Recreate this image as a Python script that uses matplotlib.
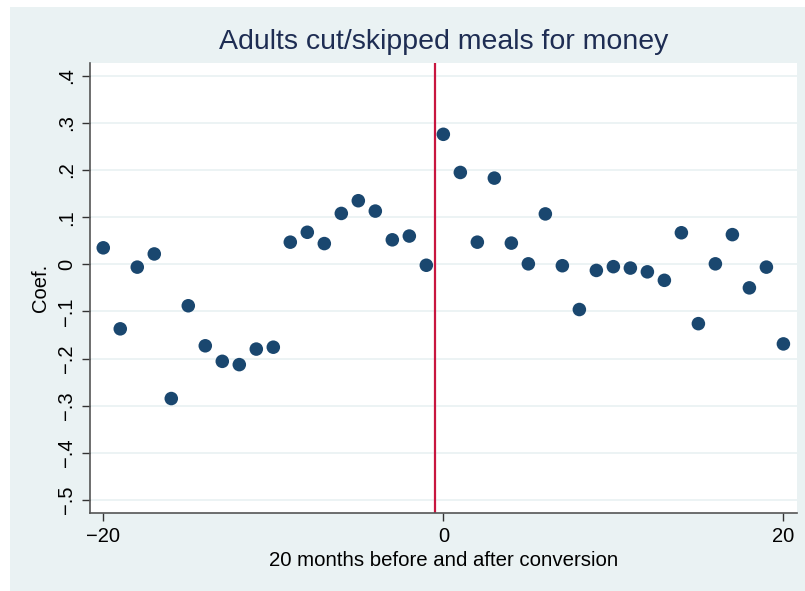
import matplotlib
matplotlib.use("Agg")
import matplotlib.pyplot as plt
from matplotlib.patches import Rectangle

# months relative to conversion and estimated coefficients
months = list(range(-20, 21))
coefs = [0.035, -0.137, -0.006, 0.022, -0.285, -0.088, -0.173, -0.206, -0.213, -0.180,
         -0.176, 0.047, 0.068, 0.044, 0.108, 0.135, 0.113, 0.052, 0.060, -0.002,
         0.276, 0.195, 0.047, 0.183, 0.045, 0.001, 0.107, -0.003, -0.096, -0.013,
         -0.005, -0.008, -0.016, -0.034, 0.067, -0.126, 0.001, 0.063, -0.050, -0.006,
         -0.169]
yticks = [-0.5, -0.4, -0.3, -0.2, -0.1, 0, 0.1, 0.2, 0.3, 0.4]
ytick_labels = ["\u2212.5", "\u2212.4", "\u2212.3", "\u2212.2", "\u2212.1", "0", ".1", ".2", ".3", ".4"]
xticks = [-20, 0, 20]
xtick_labels = ["\u221220", "0", "20"]
event_line = -0.5

plt.rcParams['font.family'] = ['Liberation Sans', 'DejaVu Sans']

W, H = 805, 591
fig = plt.figure(figsize=(W / 100, H / 100), dpi=100)
fig.patch.set_facecolor("white")

# Stata-style outer background
bg = "#eaf2f3"
fig.patches.append(Rectangle((10 / W, 0), 1 - 10 / W, 1 - 7 / H, transform=fig.transFigure,
                             facecolor=bg, edgecolor="none", zorder=-10))

left, right, top, bottom = 90, 797, 63, 513
ax = fig.add_axes([left / W, 1 - bottom / H, (right - left) / W, (bottom - top) / H])
ax.set_zorder(1)
ax.set_facecolor("white")

ax.scatter(months, coefs, s=95, color="#1a476f", edgecolors="none", zorder=3)
ax.axvline(event_line, color="#c8163f", lw=1.6, zorder=2)

ax.set_xlim(-20.78, 20.8)
ax.set_ylim(-0.528, 0.4274)

ax.set_yticks(yticks)
ax.set_yticklabels(ytick_labels, rotation=90, va="center", fontsize=14.5)
ax.set_xticks(xticks)
ax.set_xticklabels(xtick_labels, fontsize=14.5)
ax.tick_params(axis="both", length=6, width=1, color="#333333", pad=4)

ax.grid(axis="y", color="#eaf2f3", lw=1.3, zorder=0)
ax.set_axisbelow(True)

for s in ["top", "right"]:
    ax.spines[s].set_visible(False)
for s in ["left", "bottom"]:
    ax.spines[s].set_color("#555555")
    ax.spines[s].set_linewidth(1.2)

ax.set_xlabel("20 months before and after conversion", fontsize=14.7, labelpad=4)
ax.set_ylabel("Coef.", fontsize=14.5, labelpad=5)
ax.set_title("Adults cut/skipped meals for money", fontsize=20.5, color="#1e2d53", pad=10)

fig.savefig("out.png", dpi=100)
